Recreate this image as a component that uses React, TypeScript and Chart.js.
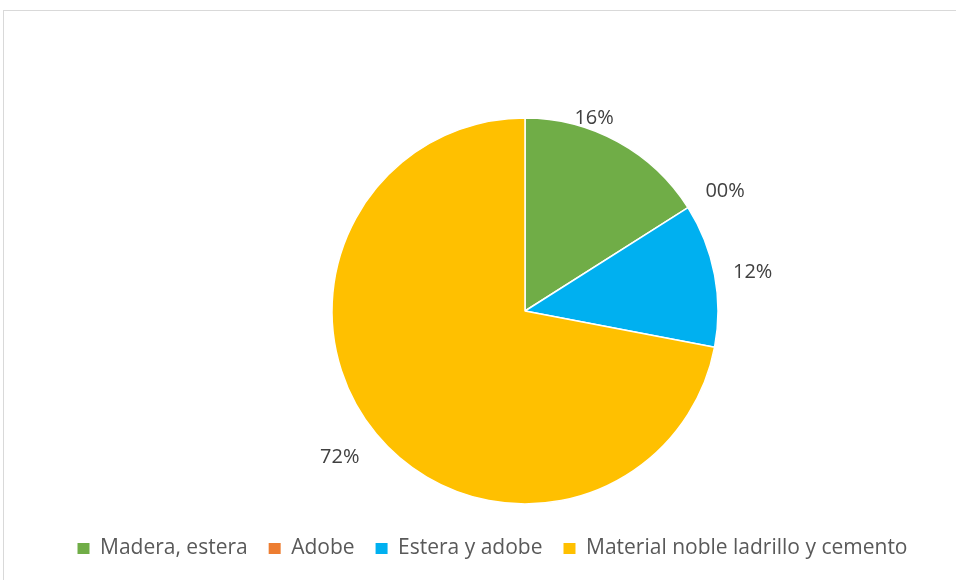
import React, { useEffect, useRef } from 'react';
import { Chart, registerables } from 'chart.js';

Chart.register(...registerables);

const categories = ['Madera, estera', 'Adobe', 'Estera y adobe', 'Material noble ladrillo y cemento'];
const values = [16, 0, 12, 72];
const colors = ['#70AD47', '#ED7D31', '#00B0F0', '#FFC000'];
// per-slice label placement: [angle shift in degrees, radial offset in px]
const labelPlacement = [[-9.1, 12], [1.6, 40], [1.1, 38], [1.3, 43]];

const fmt = (v: number) => String(Math.round(v)).padStart(2, '0') + '%';

const labelPlugin = {
  id: 'pieLabels',
  afterDatasetsDraw(chart: any) {
    const meta = chart.getDatasetMeta(0);
    const ctx = chart.ctx;
    ctx.save();
    ctx.font = '20px "Open Sans"';
    ctx.fillStyle = '#404040';
    ctx.textAlign = 'center';
    ctx.textBaseline = 'middle';
    meta.data.forEach((arc: any, i: number) => {
      const p = arc.getProps(['x', 'y', 'startAngle', 'endAngle', 'outerRadius'], true);
      const [shift, off] = labelPlacement[i];
      const a = (p.startAngle + p.endAngle) / 2 + (shift * Math.PI) / 180;
      const r = p.outerRadius + off;
      ctx.fillText(fmt(values[i]), p.x + r * Math.cos(a), p.y + r * Math.sin(a));
    });
    ctx.restore();
  },
};

export default function App() {
  const ref = useRef<HTMLCanvasElement>(null);
  useEffect(() => {
    if (!ref.current) return;
    const baseLabels = (Chart as any).overrides.pie.plugins.legend.labels.generateLabels;
    const chart = new Chart(ref.current, {
      type: 'pie',
      data: {
        labels: categories,
        datasets: [
          {
            data: values,
            backgroundColor: colors,
            borderColor: '#ffffff',
            borderWidth: 1.5,
            radius: 193,
          },
        ],
      },
      options: {
        responsive: false,
        animation: false,
        layout: { padding: { left: 29, top: 105, bottom: 11, right: 0 } },
        plugins: {
          tooltip: { enabled: false },
          title: {
            display: true,
            position: 'left',
            fullSize: false,
            text: '',
            font: { size: 1, lineHeight: 1 },
            padding: { top: 32, bottom: 32 },
          },
          legend: {
            position: 'bottom',
            labels: {
              font: { family: '"Open Sans"', size: 21 },
              color: '#595959',
              boxWidth: 12,
              boxHeight: 11,
              padding: 21,
              generateLabels: (c: any) =>
                baseLabels(c).map((l: any) => ({ ...l, lineWidth: 0, strokeStyle: l.fillStyle })),
            },
          },
        },
      },
      plugins: [labelPlugin],
    });
    return () => chart.destroy();
  }, []);
  return (
    <div>
      <div
        style={{
          position: 'fixed',
          left: 3,
          top: 10,
          width: 1100,
          height: 700,
          border: '1px solid #d9d9d9',
          background: '#ffffff',
        }}
      />
      <canvas
        ref={ref}
        width={956}
        height={580}
        style={{ position: 'fixed', left: 0, top: 0, width: 956, height: 580 }}
      />
    </div>
  );
}
